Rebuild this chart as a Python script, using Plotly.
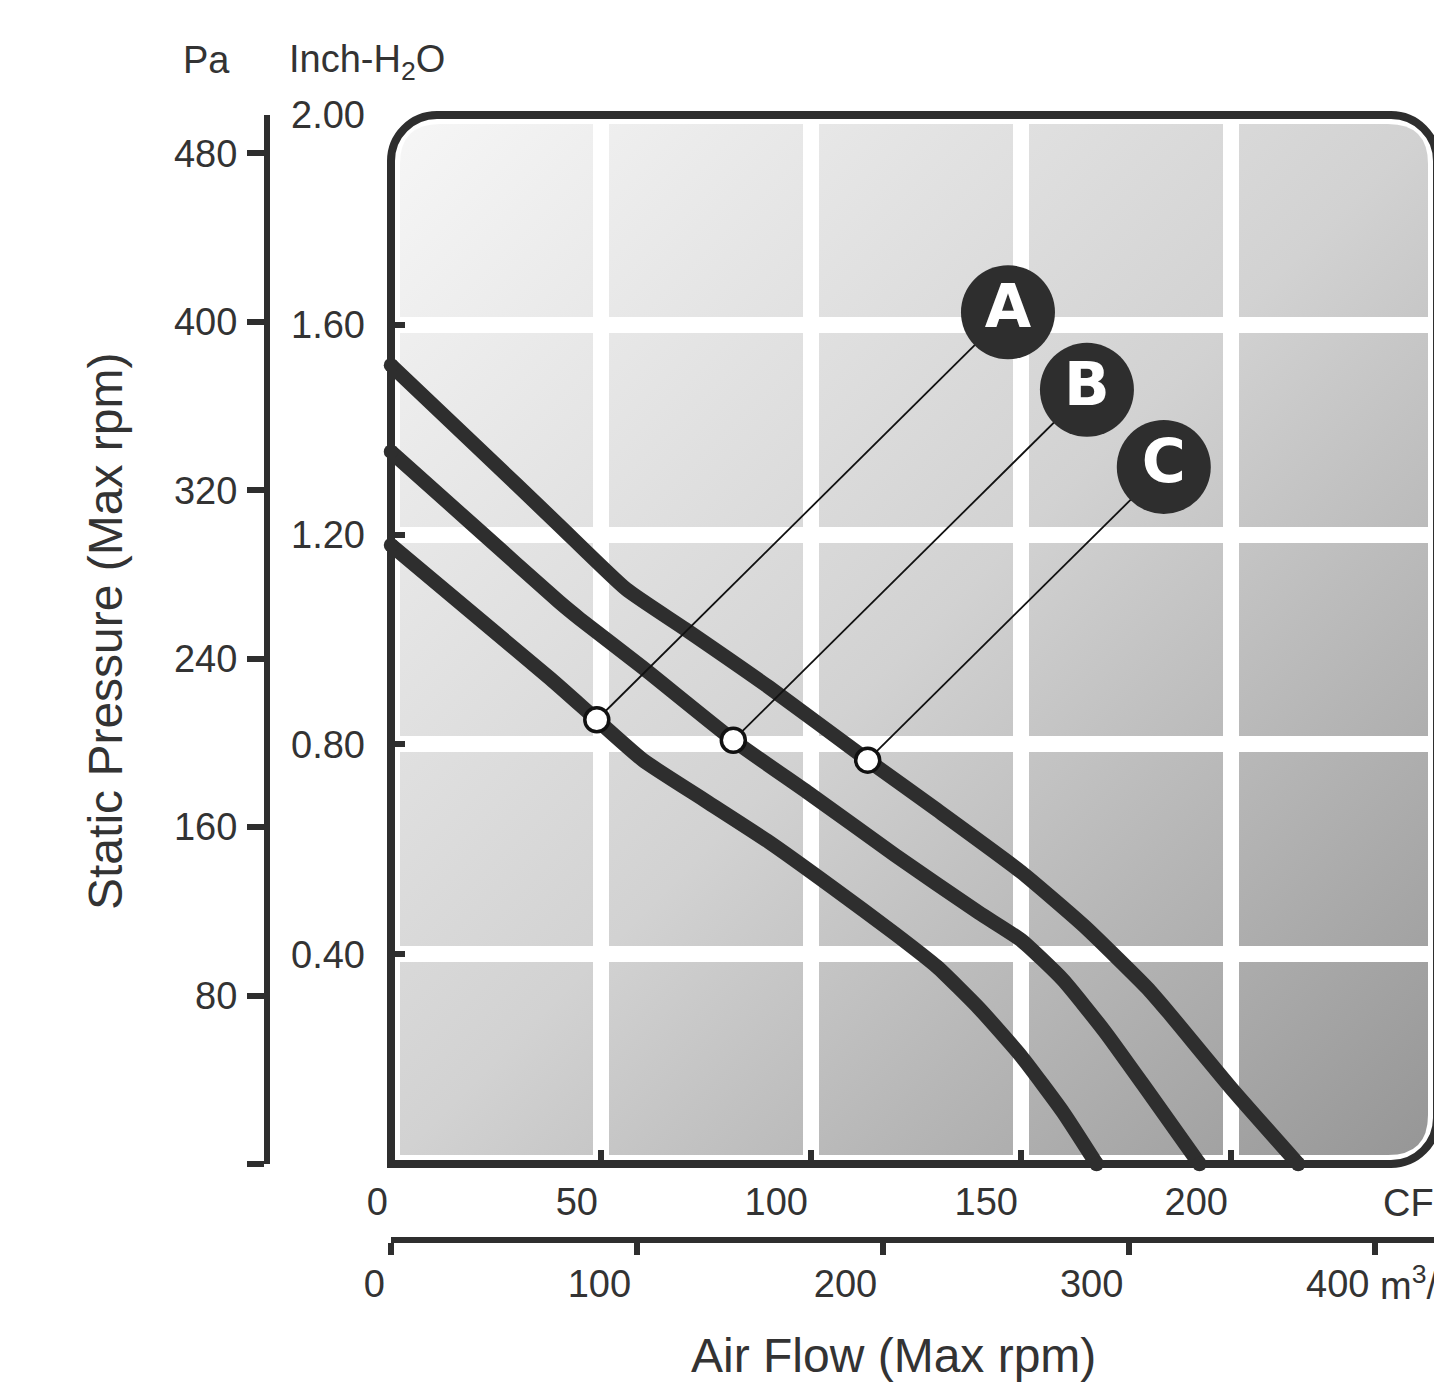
import base64
import plotly.graph_objects as go

# ---------------- data ----------------
cfm_A = [0, 38, 49, 60, 75, 90, 105, 120, 130, 140, 150, 160, 168]
inch_A = [1.180, 0.925, 0.847, 0.770, 0.692, 0.614, 0.528, 0.439, 0.376, 0.297, 0.206, 0.099, 0.0]

cfm_B = [0, 20, 40, 45, 60, 81.5, 100, 120, 140, 150, 160, 170, 180, 192.5]
inch_B = [1.358, 1.215, 1.072, 1.039, 0.946, 0.808, 0.704, 0.589, 0.479, 0.427, 0.351, 0.252, 0.141, 0.0]

cfm_C = [0, 20, 40, 56, 70, 90, 113.5, 130, 150, 165, 180, 185, 200, 216]
inch_C = [1.523, 1.371, 1.218, 1.096, 1.020, 0.909, 0.770, 0.675, 0.557, 0.454, 0.336, 0.290, 0.145, 0.0]

curve_names = ["A", "B", "C"]
op_cfm = [49, 81.5, 113.5]
op_inch = [0.847, 0.808, 0.770]
label_cfm = [146.9, 165.7, 184.0]
label_inch = [1.624, 1.476, 1.329]

inch_ticks = [0.4, 0.8, 1.2, 1.6, 2.0]
inch_labels = ["0.40", "0.80", "1.20", "1.60", "2.00"]
pa_ticks = [0, 80, 160, 240, 320, 400, 480]
pa_labels = ["", "80", "160", "240", "320", "400", "480"]
cfm_ticks = [0, 50, 100, 150, 200]
cfm_labels = ["0", "50", "100", "150", "200"]
m3h_ticks = [0, 100, 200, 300, 400]
m3h_labels = ["0", "100", "200", "300", "400"]

PA_PER_INCH = 249.09
INCH_MAX = 2.0
CFM_MAX = 249.05
M3H_MAX = 425.0

# ---------------- geometry (page pixels; page has an 8px body margin) ----------------
OFF = 8
W, H = 1442 - OFF, 1382 - OFF
PL, PR, PT, PB = 391, 1437, 115, 1164


def px(x):
    return (x - OFF) / W


def py(y):
    return (1382 - y) / H


DARK = "#2e2e2e"
TXT = "#333333"
FONT = "Liberation Sans, Arial, sans-serif"

fig = go.Figure()

curves = [(cfm_A, inch_A), (cfm_B, inch_B), (cfm_C, inch_C)]
for (xs, ys) in curves:
    fig.add_trace(go.Scatter(x=xs, y=ys, mode="lines",
                             line=dict(color=DARK, width=14.5, shape="spline", smoothing=0.5),
                             cliponaxis=False, hoverinfo="skip"))
    fig.add_trace(go.Scatter(x=[xs[0], xs[-1]], y=[ys[0], ys[-1]], mode="markers",
                             marker=dict(color=DARK, size=14.5),
                             cliponaxis=False, hoverinfo="skip"))

for i in range(3):
    fig.add_trace(go.Scatter(x=[op_cfm[i], label_cfm[i]], y=[op_inch[i], label_inch[i]],
                             mode="lines", line=dict(color="#111111", width=1.8),
                             hoverinfo="skip"))

fig.add_trace(go.Scatter(x=op_cfm, y=op_inch, mode="markers",
                         marker=dict(color="white", size=24, line=dict(color="#111111", width=3.5)),
                         hoverinfo="skip"))

fig.add_trace(go.Scatter(x=label_cfm, y=label_inch, mode="markers+text",
                         text=curve_names, textposition="middle center",
                         marker=dict(color=DARK, size=94),
                         textfont=dict(family="DejaVu Sans, sans-serif", size=60, color="white",
                                       weight="bold"),
                         hoverinfo="skip"))

# dummy traces to activate secondary axes
fig.add_trace(go.Scatter(x=[None], y=[None], xaxis="x2", yaxis="y", showlegend=False, hoverinfo="skip"))
fig.add_trace(go.Scatter(x=[None], y=[None], xaxis="x", yaxis="y2", showlegend=False, hoverinfo="skip"))

# gradient background (decorative) as SVG image
iw, ih = PR - PL, PB - PT
r = 40
m = 9
svg = (
    f'<svg xmlns="http://www.w3.org/2000/svg" width="{iw}" height="{ih}" viewBox="0 0 {iw} {ih}" preserveAspectRatio="none">'
    '<defs><linearGradient id="g" x1="0" y1="0" x2="1" y2="1">'
    '<stop offset="0" stop-color="#f6f6f6"/><stop offset="0.5" stop-color="#d2d2d2"/>'
    '<stop offset="1" stop-color="#969696"/></linearGradient></defs>'
    f'<path d="M{m},{ih-m} L{m},{m+r} Q{m},{m} {m+r},{m} L{iw-m-r},{m} Q{iw-m},{m} {iw-m},{m+r} '
    f'L{iw-m},{ih-m-r} Q{iw-m},{ih-m} {iw-m-r},{ih-m} Z" fill="url(#g)"/></svg>'
)
src = "data:image/svg+xml;base64," + base64.b64encode(svg.encode()).decode()

# rounded border (domain coords)
rx, ry = 46 / iw, 46 / ih
k = 0.5523
border = (
    f"M 0,0 L 0,{1-ry} C 0,{1-ry+k*ry} {rx-k*rx},1 {rx},1 "
    f"L {1-rx},1 C {1-rx+k*rx},1 1,{1-ry+k*ry} 1,{1-ry} "
    f"L 1,{ry} C 1,{ry-k*ry} {1-rx+k*rx},0 {1-rx},0 Z"
)

tickfont = dict(family=FONT, size=38, color=TXT)

fig.update_layout(
    template="none",
    width=W, height=H,
    margin=dict(l=0, r=0, t=0, b=0),
    paper_bgcolor="white", plot_bgcolor="rgba(0,0,0,0)",
    showlegend=False,
    images=[dict(source=src, xref="x", yref="y", x=0, y=INCH_MAX, sizex=CFM_MAX, sizey=INCH_MAX,
                 xanchor="left", yanchor="top", sizing="stretch", layer="below")],
    shapes=[dict(type="path", path=border, xref="x domain", yref="y domain",
                 line=dict(color=DARK, width=8), layer="above")],
    xaxis=dict(domain=[px(PL), px(PR)], range=[0, CFM_MAX], anchor="y",
               tickvals=cfm_ticks, ticktext=cfm_labels, ticks="inside", ticklen=14, tickwidth=6,
               tickcolor=DARK, showline=False, zeroline=False, showgrid=True,
               gridcolor="white", gridwidth=16, tickfont=tickfont,
               ticklabelposition="outside left", ticklabelstandoff=12, automargin=False),
    yaxis=dict(domain=[py(PB), py(PT)], range=[0, INCH_MAX], anchor="x",
               tickvals=inch_ticks, ticktext=inch_labels, ticks="inside", ticklen=14, tickwidth=6,
               tickcolor=DARK, showline=False, zeroline=False, showgrid=True,
               gridcolor="white", gridwidth=16, tickfont=tickfont,
               ticklabelstandoff=25, automargin=False),
    yaxis2=dict(overlaying="y", anchor="free", position=px(267), side="left",
                range=[0, INCH_MAX * PA_PER_INCH], tickvals=pa_ticks, ticktext=pa_labels,
                ticks="outside", ticklen=17, tickwidth=6, tickcolor=DARK,
                showline=True, linewidth=6, linecolor=DARK, showgrid=False, zeroline=False,
                tickfont=tickfont, ticklabelstandoff=2, automargin=False),
    xaxis2=dict(overlaying="x", anchor="free", position=py(1240), side="bottom",
                range=[0, M3H_MAX], tickvals=m3h_ticks, ticktext=m3h_labels,
                ticks="outside", ticklen=12, tickwidth=6, tickcolor=DARK,
                showline=True, linewidth=6, linecolor=DARK, showgrid=False, zeroline=False,
                tickfont=tickfont, ticklabelposition="outside left", ticklabelstandoff=8,
                automargin=False),
)

ann_font = dict(family=FONT, size=38, color=TXT)
fig.add_annotation(text="Pa", xref="paper", yref="paper", x=px(206), y=py(60),
                   xanchor="center", yanchor="middle", showarrow=False, font=ann_font)
fig.add_annotation(text="Inch-H<sub>2</sub>O", xref="paper", yref="paper", x=px(287), y=py(62),
                   xanchor="left", yanchor="middle", showarrow=False, font=ann_font)
fig.add_annotation(text="CFM", xref="paper", yref="paper", x=px(1381), y=py(1203),
                   xanchor="left", yanchor="middle", showarrow=False, font=ann_font)
fig.add_annotation(text="m<sup>3</sup>/h", xref="paper", yref="paper", x=px(1378), y=py(1283),
                   xanchor="left", yanchor="middle", showarrow=False, font=ann_font)
fig.add_annotation(text="Air Flow (Max rpm)", xref="paper", yref="paper", x=px(893), y=py(1355),
                   xanchor="center", yanchor="middle", showarrow=False,
                   font=dict(family=FONT, size=48, color=TXT))
fig.add_annotation(text="Static Pressure (Max rpm)", xref="paper", yref="paper", x=px(106), y=py(632),
                   xanchor="center", yanchor="middle", showarrow=False, textangle=-90,
                   font=dict(family=FONT, size=48, color=TXT))

fig.write_html("out.html")
